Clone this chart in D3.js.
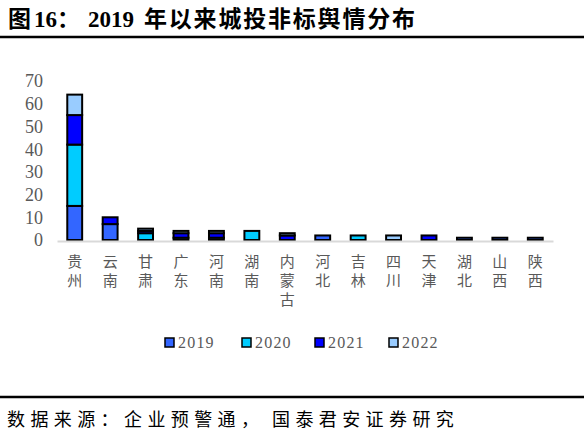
<!DOCTYPE html>
<html><head><meta charset="utf-8">
<script src="https://cdn.jsdelivr.net/npm/d3@7/dist/d3.min.js"></script>
<style>body{margin:0;background:#fff;}svg{display:block;}</style>
</head><body>
<script>
const categories = ["贵州","云南","甘肃","广东","河南","湖南","内蒙古","河北","吉林","四川","天津","湖北","山西","陕西"];
const years = ["2019","2020","2021","2022"];
const v2019 = [15,7,0,1,1,0,0,2,0,0,0,1,1,1];
const v2020 = [27,0,3,0,0,4,0,0,2,0,0,0,0,0];
const v2021 = [13,3,1,2,2,0,2,0,0,0,2,0,0,0];
const v2022 = [9,0,1,1,1,0,1,0,0,2,0,0,0,0];
const yTicks = [0,10,20,30,40,50,60,70];
const colors = ["#3366FF","#00CCFF","#0000FF","#99CCFF"];

const W=584,H=439;
const svg=d3.select("body").append("svg").attr("width",W).attr("height",H);
const serif="'Liberation Serif','Times New Roman',serif";
const cjk="'Noto Sans CJK SC',sans-serif";
const gray="#595959";

const title=svg.append("text").attr("y",27).attr("font-size",23).attr("font-weight","bold").attr("fill","#000");
[["图",8,cjk,0],["16：",34,serif+","+cjk,0],["2019",88,serif,0],["年以来城投非标舆情分布",144,cjk,1.8]].forEach(([t,px,f,ls])=>{
  title.append("tspan").attr("x",px).attr("font-family",f).attr("letter-spacing",ls).text(t);
});
svg.append("line").attr("x1",0).attr("x2",W).attr("y1",37).attr("y2",37).attr("stroke","#000").attr("stroke-width",2.5);
svg.append("line").attr("x1",0).attr("x2",W).attr("y1",397).attr("y2",397).attr("stroke","#000").attr("stroke-width",2.5);
const src=svg.append("text").attr("y",426).attr("font-family",cjk).attr("font-size",18).attr("letter-spacing",5.4).attr("fill","#000");
src.append("tspan").attr("x",7).text("数据来源：企业预警通，");
src.append("tspan").attr("x",272).text("国泰君安证券研究");

const x=d3.scaleBand().domain(categories).range([57,553]).paddingInner(0.58).paddingOuter(0.29);
const y=d3.scaleLinear().domain([0,70]).range([240,81]);

const data=categories.map((c,i)=>({cat:c,"2019":v2019[i],"2020":v2020[i],"2021":v2021[i],"2022":v2022[i]}));
const stack=d3.stack().keys(years)(data);

// y axis labels
const yAxis=svg.append("g").attr("transform","translate(43,0)")
  .call(d3.axisLeft(y).tickValues(yTicks).tickSize(0).tickPadding(0));
yAxis.select(".domain").remove();
yAxis.selectAll("text").attr("font-family",serif).attr("font-size",18).attr("fill",gray).attr("dy","0.33em");

// bars
stack.forEach((s,k)=>{
  svg.append("g").selectAll("rect").data(s.filter(d=>d[1]-d[0]>0)).join("rect")
    .attr("x",d=>x(d.data.cat)).attr("width",x.bandwidth())
    .attr("y",d=>y(d[1])).attr("height",d=>y(d[0])-y(d[1]))
    .attr("fill",colors[k]).attr("stroke","#000").attr("stroke-width",2);
});

// x axis
const xAxis=svg.append("g").attr("transform","translate(0,241)")
  .call(d3.axisBottom(x).tickSize(0).tickFormat(""));
xAxis.select(".domain").attr("stroke","#d9d9d9").attr("stroke-width",2);
categories.forEach(c=>{
  const t=svg.append("text").attr("font-family",cjk).attr("font-size",15).attr("fill",gray)
    .attr("text-anchor","middle");
  [...c].forEach((ch,j)=>{
    t.append("tspan").attr("x",x(c)+x.bandwidth()/2).attr("y",267+j*19).text(ch);
  });
});

// legend
const legX=[165,242,315,389];
years.forEach((yr,k)=>{
  svg.append("rect").attr("x",legX[k]).attr("y",338).attr("width",9).attr("height",9)
    .attr("fill",colors[k]).attr("stroke","#000").attr("stroke-width",1.5);
  svg.append("text").attr("x",legX[k]+13).attr("y",348).attr("font-family",serif)
    .attr("font-size",16).attr("letter-spacing",1.2).attr("fill",gray).text(yr);
});
</script>
</body></html>
